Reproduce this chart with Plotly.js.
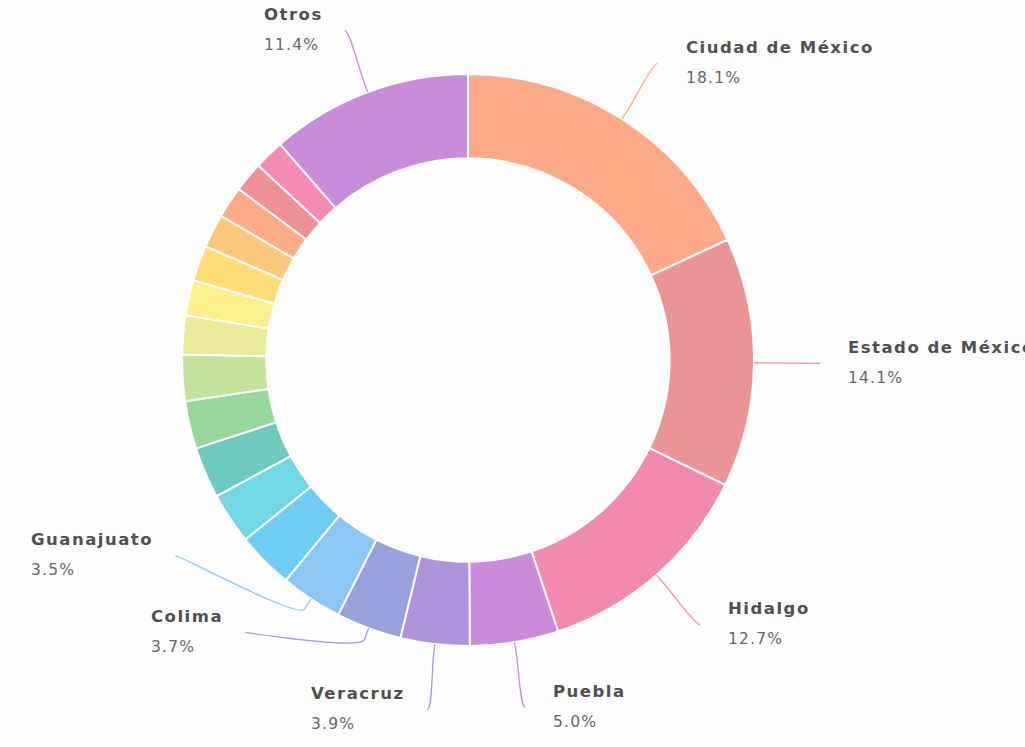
<!DOCTYPE html>
<html>
<head>
<meta charset="utf-8">
<script src="https://cdn.plot.ly/plotly-3.0.1.min.js"></script>
<style>
html,body{margin:0;padding:0;background:#fdfdfd;}
#chart{width:1025px;height:747px;}
</style>
</head>
<body>
<div id="chart"></div>
<script>
// ---- data ----
const states = ['Ciudad de México','Estado de México','Hidalgo','Puebla','Veracruz','Colima','Guanajuato',
  'Jalisco','Nuevo León','Querétaro','Morelos','Michoacán','Tlaxcala','Oaxaca','Guerrero','Chiapas',
  'Yucatán','Quintana Roo','San Luis Potosí','Otros'];
const shares = [18.1,14.1,12.7,5.0,3.9,3.7,3.5,
  3.2,2.9,2.9,2.7,2.6,2.2,2.0,2.0,1.9,1.8,1.7,1.7,11.4];
const sliceColors = ['#fca98a','#eb9495','#f28ab0','#cb8bda','#af93dc','#98a3de','#8ac6f6',
  '#6fcdf3','#70d8e5','#6ecabd','#98d79a','#c3e39d','#e7ec99','#fdf08c','#fedc76','#fec67b',
  '#fcab86','#ee9193','#f38bb5','#c88cda'];
const showLabel = [true,true,true,true,true,true,true,
  false,false,false,false,false,false,false,false,false,false,false,false,true];

// ---- layout constants ----
const W = 1025, H = 747;
const CX = 468, CY = 360, R = 286, HOLE = 0.705;
const LABEL_DIST = 66, BREAK_DIST = 12, GAP = 77, PAD_R = 26, PAD_L = 20;

const total = shares.reduce((a, b) => a + b, 0);
let cum = 0;
const mids = shares.map(v => { const m = (cum + v / 2) / total * 360; cum += v; return m; });

const px = x => x / W;
const py = y => 1 - y / H;
const RL = R + LABEL_DIST;

const items = [];
shares.forEach((v, i) => {
  if (!showLabel[i]) return;
  const a = mids[i] * Math.PI / 180;
  items.push({ i, a, left: mids[i] >= 180, x: CX + RL * Math.sin(a), y: CY - RL * Math.cos(a) });
});
const leftItems = items.filter(d => d.left).sort((a, b) => b.y - a.y);
for (let k = 1; k < leftItems.length; k++) {
  const prev = leftItems[k - 1], d = leftItems[k];
  if (d.y > prev.y - GAP) {
    d.y = prev.y - GAP;
    d.x = CX - Math.sqrt(Math.max(0, RL * RL - (d.y - CY) ** 2));
  }
}
const rightItems = items.filter(d => !d.left).sort((a, b) => a.y - b.y);
for (let k = 1; k < rightItems.length; k++) {
  const prev = rightItems[k - 1], d = rightItems[k];
  if (d.y < prev.y + GAP) {
    d.y = prev.y + GAP;
    d.x = CX + Math.sqrt(Math.max(0, RL * RL - (d.y - CY) ** 2));
  }
}

const shapes = items.map(d => {
  const tx = CX + R * Math.sin(d.a), ty = CY - R * Math.cos(d.a);
  const bx = CX + (R + BREAK_DIST) * Math.sin(d.a), by = CY - (R + BREAK_DIST) * Math.cos(d.a);
  const c1x = d.x + (d.left ? 5 : -5), c1y = d.y;
  const c2x = 2 * bx - tx, c2y = 2 * by - ty;
  const path = `M ${px(d.x)},${py(d.y)} C ${px(c1x)},${py(c1y)} ${px(c2x)},${py(c2y)} ${px(bx)},${py(by)} L ${px(tx)},${py(ty)}`;
  return { type: 'path', xref: 'paper', yref: 'paper', path, line: { color: sliceColors[d.i], width: 1.3 } };
});

const annotations = items.map(d => {
  const pct = (shares[d.i] / total * 100).toFixed(1) + '%';
  return {
    xref: 'paper', yref: 'paper',
    x: px(d.left ? d.x - PAD_L : d.x + PAD_R), y: py(d.y - 1),
    xanchor: d.left ? 'right' : 'left', yanchor: 'middle', align: 'left',
    showarrow: false,
    text: `<b><span style="font-size:16.5px;color:#505050;letter-spacing:1.5px">${states[d.i]}</span></b><br>` +
          `<span style="font-size:15.5px;color:#666666;letter-spacing:1.2px">${pct}</span>`,
    font: { family: 'DejaVu Sans, sans-serif', size: 23, color: '#505050' }
  };
});

const trace = {
  type: 'pie',
  labels: states,
  values: shares,
  sort: false,
  direction: 'clockwise',
  rotation: 0,
  hole: HOLE,
  textinfo: 'none',
  marker: { colors: sliceColors, line: { color: '#ffffff', width: 2 } },
  domain: { x: [(CX - R) / W, (CX + R) / W], y: [1 - (CY + R) / H, 1 - (CY - R) / H] },
  hovertemplate: '%{label}<br>%{percent:.1%}<extra></extra>'
};

Plotly.newPlot('chart', [trace], {
  width: W, height: H,
  margin: { l: 0, r: 0, t: 0, b: 0 },
  paper_bgcolor: '#fdfdfd',
  plot_bgcolor: '#fdfdfd',
  showlegend: false,
  shapes, annotations
}, { displayModeBar: false });
</script>
</body>
</html>
